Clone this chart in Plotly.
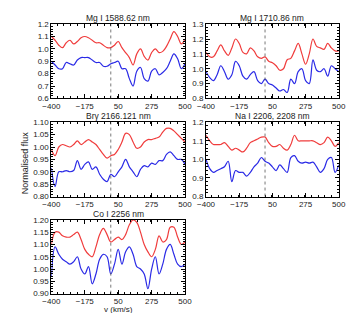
import plotly.graph_objects as go

# velocity grid (km/s), same for every line
velocity = list(range(-400, 501, 25))
rest_velocity = 0

titles = ["Mg I 1588.62 nm", "Mg I 1710.86 nm", "Brγ 2166.121 nm",
          "Na I 2206, 2208 nm", "Co I 2256 nm"]

mg1588_red = [1.10, 1.07, 1.03, 1.01, 1.05, 1.07, 1.04, 1.06, 1.09, 1.10, 1.09, 1.07, 1.05,
              1.05, 1.03, 1.01, 1.01, 1.03, 1.06, 1.01, 0.97, 0.93, 0.87, 0.96, 1.00, 0.94,
              0.91, 0.97, 1.00, 0.97, 0.98, 1.02, 1.08, 1.14, 1.10, 1.04, 1.08]
mg1588_blue = [0.90, 0.87, 0.84, 0.84, 0.89, 0.88, 0.87, 0.91, 0.93, 0.93, 0.93, 0.91, 0.89,
               0.89, 0.86, 0.86, 0.88, 0.89, 0.90, 0.84, 0.84, 0.76, 0.70, 0.82, 0.85, 0.76,
               0.74, 0.82, 0.84, 0.79, 0.81, 0.84, 0.90, 0.96, 0.92, 0.84, 0.88]

mg1710_red = [1.11, 1.08, 1.08, 1.12, 1.16, 1.12, 1.09, 1.14, 1.20, 1.17, 1.11, 1.10, 1.14,
              1.12, 1.08, 1.07, 1.08, 1.05, 1.04, 1.02, 0.99, 1.00, 1.06, 1.07, 1.12, 1.17,
              1.10, 1.03, 1.10, 1.20, 1.15, 1.14, 1.13, 1.17, 1.14, 1.12, 1.12]
mg1710_blue = [0.98, 0.94, 0.92, 0.96, 1.02, 0.98, 0.93, 0.96, 1.05, 1.02, 0.95, 0.93, 0.96,
               0.98, 0.92, 0.90, 0.93, 0.90, 0.89, 0.87, 0.85, 0.86, 0.84, 0.93, 0.90, 0.98,
               1.00, 0.92, 0.90, 1.06, 0.99, 0.98, 1.00, 0.95, 1.02, 1.00, 0.98]

brg_red = [0.99, 0.965, 1.00, 1.01, 1.005, 1.00, 1.01, 1.025, 1.01, 1.02, 1.03, 1.02, 1.01,
           0.99, 0.97, 0.955, 0.965, 0.97, 0.99, 1.02, 1.055, 1.05, 1.02, 0.995, 1.00, 1.02,
           1.03, 1.03, 1.035, 1.04, 1.06, 1.075, 1.075, 1.065, 1.05, 1.035, 1.02]
brg_blue = [0.915, 0.84, 0.90, 0.90, 0.905, 0.90, 0.905, 0.945, 0.91, 0.93, 0.94, 0.91, 0.92,
            0.89, 0.87, 0.86, 0.89, 0.88, 0.90, 0.92, 0.95, 0.92, 0.90, 0.88, 0.91, 0.925,
            0.92, 0.935, 0.93, 0.945, 0.945, 0.97, 0.98, 0.965, 0.95, 0.95, 0.93]

na_red = [1.13, 1.10, 1.08, 1.08, 1.08, 1.09, 1.07, 1.05, 1.06, 1.05, 1.04, 1.06, 1.09,
          1.10, 1.11, 1.12, 1.12, 1.09, 1.07, 1.07, 1.08, 1.06, 1.05, 1.08, 1.13, 1.10,
          1.10, 1.10, 1.10, 1.10, 1.09, 1.08, 1.09, 1.12, 1.10, 1.07, 1.09]
na_blue = [1.00, 0.95, 0.93, 0.94, 0.95, 0.96, 0.99, 0.88, 0.94, 0.93, 0.93, 0.91, 0.93,
           0.96, 0.98, 1.01, 0.99, 0.98, 0.96, 0.94, 0.97, 0.95, 0.93, 1.01, 1.02, 0.99,
           0.98, 0.985, 0.98, 0.985, 0.96, 0.93, 0.95, 1.00, 1.01, 0.93, 0.97]

co_red = [1.10, 1.15, 1.15, 1.135, 1.13, 1.13, 1.14, 1.15, 1.12, 1.08, 1.06, 1.05, 1.09,
          1.14, 1.165, 1.14, 1.11, 1.12, 1.13, 1.12, 1.14, 1.18, 1.20, 1.19, 1.15, 1.10,
          1.07, 1.05, 1.08, 1.135, 1.11, 1.12, 1.17, 1.17, 1.13, 1.10, 1.11]
co_blue = [0.97, 1.09, 1.06, 1.04, 1.03, 1.02, 1.03, 1.05, 1.00, 0.98, 1.01, 0.94, 0.98,
           1.04, 1.06, 1.05, 0.98, 1.02, 1.08, 1.02, 1.07, 1.09, 1.06, 1.01, 1.00, 0.98,
           0.92, 1.00, 1.05, 0.98, 1.02, 1.08, 1.10, 1.06, 1.02, 1.01, 1.02]

red_series = [mg1588_red, mg1710_red, brg_red, na_red, co_red]
blue_series = [mg1588_blue, mg1710_blue, brg_blue, na_blue, co_blue]
y_ranges = [[0.6, 1.2], [0.8, 1.3], [0.8, 1.1], [0.8, 1.2], [0.9, 1.2]]
y_steps = [0.1, 0.1, 0.05, 0.1, 0.05]

W, H = 354, 313
col_px = [(36, 176), (198, 337)]
row_px = [(12.5, 89), (113.5, 190), (214, 290)]
font = dict(family="Liberation Sans, Arial, sans-serif", size=8, color="#222222")

fig = go.Figure()
layout = dict(width=W, height=H, margin=dict(l=0, r=0, t=0, b=0),
              plot_bgcolor="white", paper_bgcolor="white", showlegend=False,
              font=font, shapes=[], annotations=[])

for i in range(5):
    row, col = divmod(i, 2)
    n = "" if i == 0 else str(i + 1)
    x0, x1 = col_px[col]
    y0, y1 = row_px[row]
    xa = "xaxis" + n
    ya = "yaxis" + n
    step = y_steps[i]
    layout[xa] = dict(domain=[x0 / W, x1 / W], anchor="y" + n, range=[-400, 500],
                      tick0=-400, dtick=225, ticks="inside", ticklen=4, showline=True,
                      linecolor="black", linewidth=1, mirror="allticks", showgrid=False,
                      zeroline=False, tickcolor="black", tickfont=font,
                      minor=dict(ticks="inside", ticklen=2, dtick=45, tickcolor="black"))
    layout[ya] = dict(domain=[1 - y1 / H, 1 - y0 / H], anchor="x" + n, range=y_ranges[i],
                      dtick=step, tick0=0, ticks="inside", ticklen=4, showline=True,
                      linecolor="black", linewidth=1, mirror="allticks", showgrid=False,
                      zeroline=False, tickcolor="black", tickfont=font,
                      tickformat=".2f" if step < 0.1 else ".1f",
                      minor=dict(ticks="inside", ticklen=2, dtick=step / 5, tickcolor="black"))
    fig.add_trace(go.Scatter(x=velocity, y=red_series[i], mode="lines", xaxis="x" + n,
                             yaxis="y" + n, line=dict(color="#f03c3c", width=1.2,
                                                      shape="spline", smoothing=1.0)))
    fig.add_trace(go.Scatter(x=velocity, y=blue_series[i], mode="lines", xaxis="x" + n,
                             yaxis="y" + n, line=dict(color="#2a2ae6", width=1.2,
                                                      shape="spline", smoothing=1.0)))
    layout["shapes"].append(dict(type="line", xref="x" + n, yref="y" + n + " domain",
                                 x0=rest_velocity, x1=rest_velocity, y0=0, y1=1,
                                 line=dict(color="#555555", width=0.8, dash="dot")))
    layout["annotations"].append(dict(text=titles[i], xref="paper", yref="paper",
                                      x=(x0 + x1) / 2 / W, y=1 - (y0 - 6.5) / H,
                                      xanchor="center", yanchor="middle", showarrow=False,
                                      font=dict(size=8.5, color="#222222")))

layout["annotations"].append(dict(text="Normalised flux", xref="paper", yref="paper",
                                  x=8 / W, y=1 - 155 / H, textangle=-90, showarrow=False,
                                  xanchor="center", yanchor="middle",
                                  font=dict(size=9, color="#222222")))
layout["annotations"].append(dict(text="v (km/s)", xref="paper", yref="paper",
                                  x=106 / W, y=1 - 306.5 / H, showarrow=False,
                                  xanchor="center", yanchor="middle",
                                  font=dict(size=8, color="#222222")))

fig.update_layout(**layout)
fig.write_html("out.html")
